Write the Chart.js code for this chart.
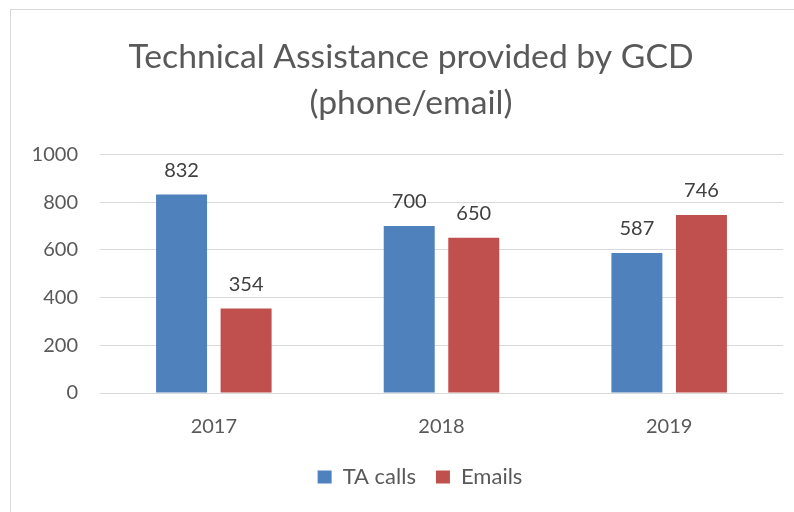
<!DOCTYPE html>
<html>
<head>
<meta charset="utf-8">
<script src="https://cdn.jsdelivr.net/npm/chart.js@4.4.0/dist/chart.umd.min.js"></script>
<style>
html,body{margin:0;padding:0;overflow:hidden;background:#fff;width:794px;height:512px;}
#frame{position:absolute;left:10px;top:9px;width:800px;height:520px;border:1px solid #D9D9D9;background:#fff;}
#wrap{position:absolute;left:0;top:0;width:800px;height:502px;}
</style>
</head>
<body>
<div id="frame"><div id="wrap"><canvas id="c" width="800" height="502"></canvas></div></div>
<script>
const titleLines = ["Technical Assistance provided by GCD", "(phone/email)"];
const categories = ["2017", "2018", "2019"];
const seriesNames = ["TA calls", "Emails"];
const taCalls = [832, 700, 587];
const emails = [354, 650, 746];
const yTicks = [0, 200, 400, 600, 800, 1000];

const FONT = "Lato, 'Open Sans', sans-serif";

const valueLabels = {
  id: 'valueLabels',
  afterDatasetsDraw(chart) {
    const ctx = chart.ctx;
    ctx.save();
    ctx.font = "20px " + FONT;
    ctx.fillStyle = "#404040";
    ctx.textAlign = "center";
    ctx.textBaseline = "middle";
    chart.data.datasets.forEach((ds, i) => {
      chart.getDatasetMeta(i).data.forEach((bar, j) => {
        ctx.fillText(String(ds.data[j]), bar.x, bar.y - 24);
      });
    });
    ctx.restore();
  }
};

// let the y-axis labels use the space left of the axis box; nudge the legend
const layoutTweaks = {
  id: 'layoutTweaks',
  afterLayout(chart) {
    chart.scales.y.left = 0;
    const lg = chart.legend;
    lg.top -= 15;
    lg.bottom -= 15;
    lg.left += 9;
    lg.right += 9;
  }
};

new Chart(document.getElementById('c'), {
  type: 'bar',
  data: {
    labels: categories,
    datasets: [
      { label: seriesNames[0], data: taCalls, backgroundColor: '#4F81BD' },
      { label: seriesNames[1], data: emails, backgroundColor: '#C0504D' }
    ]
  },
  options: {
    responsive: false,
    animation: false,
    devicePixelRatio: 1,
    categoryPercentage: 0.567,
    barPercentage: 0.79,
    layout: { padding: { left: 28, right: 28, top: 0, bottom: -1 } },
    plugins: {
      title: {
        display: true,
        text: titleLines,
        color: '#595959',
        font: { family: FONT, size: 33.7, weight: 'normal', lineHeight: 1.37 },
        padding: { top: 24, bottom: 28 }
      },
      legend: {
        display: true,
        position: 'bottom',
        maxHeight: 64,
        labels: {
          color: '#595959',
          font: { family: FONT, size: 22 },
          boxWidth: 14,
          boxHeight: 13,
          padding: 20
        }
      },
      tooltip: { enabled: false }
    },
    scales: {
      x: {
        grid: { display: false, drawTicks: false },
        border: { display: false },
        ticks: { color: '#595959', font: { family: FONT, size: 20 }, padding: 22 }
      },
      y: {
        min: 0, max: 1000,
        afterBuildTicks(scale) { scale.ticks = yTicks.map(v => ({ value: v })); },
        afterFit(scale) { scale.width = 61; },
        grid: { color: '#D9D9D9', lineWidth: 1, drawTicks: false },
        border: { display: false },
        ticks: { color: '#595959', font: { family: FONT, size: 20 }, padding: 22, callback: v => String(v) }
      }
    }
  },
  plugins: [valueLabels, layoutTweaks]
});
</script>
</body>
</html>
